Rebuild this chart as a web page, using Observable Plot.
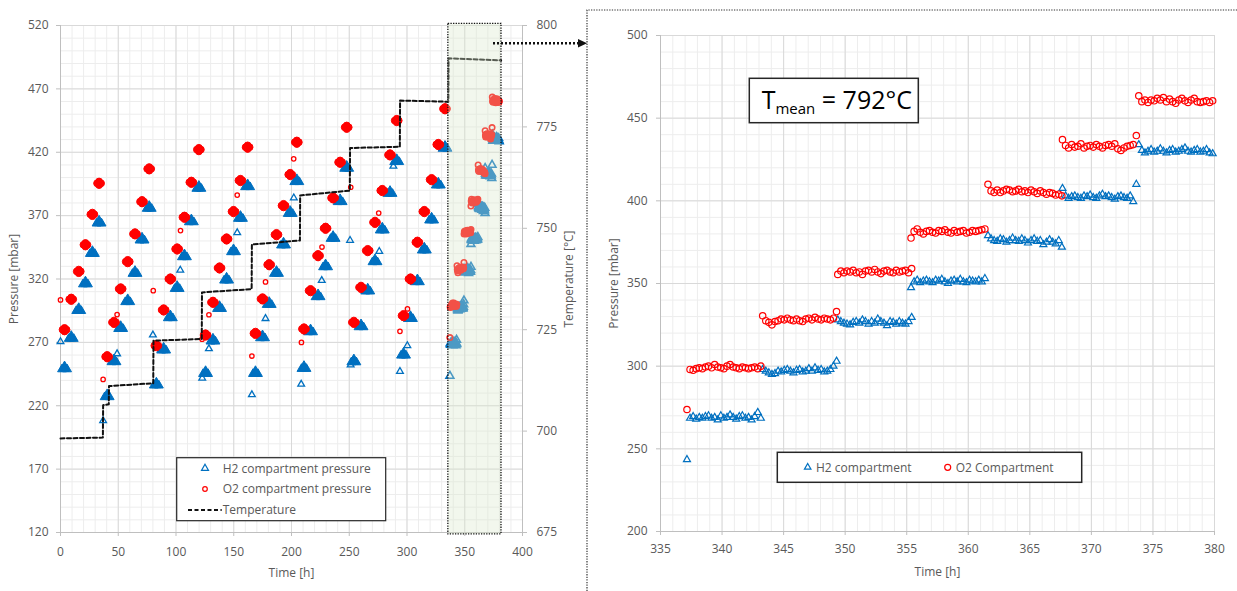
<!DOCTYPE html>
<html><head><meta charset="utf-8">
<script src="https://cdn.jsdelivr.net/npm/d3@7"></script>
<script src="https://cdn.jsdelivr.net/npm/@observablehq/plot@0.6"></script>
<style>
body{margin:0;background:#fff;width:1237px;height:591px;overflow:hidden;position:relative;font-family:"Open Sans",sans-serif;}
#left{position:absolute;left:0;top:0;}
#right{position:absolute;left:590px;top:0;}
#overlay{position:absolute;left:0;top:0;}
</style></head><body>
<div id="left"></div><div id="right"></div>
<svg id="overlay" width="1237" height="591" xmlns="http://www.w3.org/2000/svg"></svg>
<script>
// ---------- Left panel: full test (0-400 h) ----------
const xTicksLeft = [0, 50, 100, 150, 200, 250, 300, 350, 400];
const yTicksLeft = [120, 170, 220, 270, 320, 370, 420, 470, 520];
const tempTicks = [675, 700, 725, 750, 775, 800];

// temperature step profile [h], [°C]
const tempTime = [0, 36.7, 36.9, 41.8, 42.0, 80.3, 80.5, 122.3, 122.5, 165.5, 165.7, 207.3, 207.5, 250.5, 250.7, 293.8, 294.0, 335.8, 336.0, 381.5];
const tempValue = [698.2, 698.4, 706.4, 706.6, 711.1, 711.8, 722.3, 722.7, 734.2, 735.0, 746.0, 747.0, 758.1, 759.3, 769.8, 770.1, 781.5, 781.2, 791.9, 791.4];

// pressure-step clusters (centre time of each ~6 h hold) for temperature steps 1-8
const cycleTime = [
  3.5, 9.3, 15.8, 21.6, 27.6, 33.4,
  40.4, 46.3, 52.1, 58.2, 64.5, 70.6, 76.8,
  83, 89.3, 95.1, 101, 107.3, 113.3, 119.8,
  125.6, 132, 137.7, 143.8, 149.8, 155.8, 162,
  168.8, 174.9, 180.7, 187, 193.1, 198.9, 204.6,
  210.8, 216.5, 223, 229.5, 236, 242.1, 247.8,
  254, 260.2, 266, 272.3, 278.6, 285.3, 291.1,
  297, 303, 309, 315, 321.3, 327.1, 332.9];
const h2Cluster = [
  250, 274, 296, 317, 341, 365,
  228, 255.6, 281.8, 303, 325.3, 351.6, 376.6,
  237.2, 264.8, 290.3, 313.4, 338.4, 366, 392.4,
  246.3, 271.9, 297.6, 320, 342.4, 368.7, 393.7,
  246.3, 274.5, 300.8, 325.3, 347.7, 372.6, 397.7,
  250.3, 279.2, 306.9, 330.5, 352.9, 381.9, 408.2,
  255.5, 283.2, 311.4, 334.5, 359.5, 388.4, 413.5,
  260.8, 289.7, 318.7, 343.7, 367.4, 395, 424];
const o2Cluster = [
  280, 304, 326, 347, 371, 395.5,
  258.7, 285.8, 312.2, 333.7, 355.6, 381, 406.9,
  267.4, 295.6, 320, 343.7, 368.7, 396.3, 422.1,
  275.8, 301.6, 328.7, 351.6, 373.2, 397.7, 424,
  277.1, 304.3, 331.3, 355, 377.9, 402.4, 427.9,
  280.6, 310.8, 338.4, 360, 384, 412.1, 439.7,
  285.8, 313.4, 342.4, 364.7, 389.8, 417.9, 445,
  291.1, 320, 349, 373.2, 398.4, 426.1, 454.3];

// transient single readings
const h2OutTime = [0, 36.9, 49, 80, 103.7, 122.7, 128.5, 153, 165.7, 177.5, 202, 208.4, 226.2, 250.7, 251.2, 276, 288.2, 293.9, 300.3];
const h2OutValue = [270.6, 208.2, 261, 275.8, 327, 241.8, 265, 356.5, 228.7, 288.8, 384, 237, 318.8, 350.5, 252.2, 341.8, 409, 247.1, 267.4];
const o2OutTime = [0, 36.9, 49, 80.3, 103.9, 122.6, 128.5, 153, 165.7, 177.5, 201.9, 208.6, 226.4, 251.3, 275.5, 293.9, 300.4];
const o2OutValue = [303.5, 240.8, 291.9, 310.8, 358.2, 272.5, 291.8, 386.2, 259.2, 317.7, 414.8, 270, 345.2, 392.4, 372, 278.7, 296.4];

// highlighted window [h]
const zoomWindow = [335.8, 381.8];

// ---------- Right panel: detail of last temperature step (Tmean 792 °C) ----------
const xTicksRight = [335, 340, 345, 350, 355, 360, 365, 370, 375, 380];
const yTicksRight = [200, 250, 300, 350, 400, 450, 500];
const windowStart = [337.15, 343.3, 349.4, 355.35, 361.6, 367.65, 373.85];
const sampleStep = 0.25; // h between readings
const h2Window = [
 [243.5, 268.5, 269.5, 268, 269, 268.5, 269.5, 270, 268.5, 269, 267.5, 270, 268.5, 269, 270.5, 269, 268, 269.5, 270, 268.5, 269, 267.5, 269.5, 272, 268.5],
 [298, 297, 296, 295, 295.5, 297, 296.5, 297.5, 298, 297, 296, 297.5, 298, 296.5, 297, 298.5, 297, 299, 297.5, 298, 296.5, 297, 298, 300, 303],
 [328, 327, 326, 325.5, 325, 326.5, 327, 326, 328, 327, 325.5, 327, 326, 328.5, 327, 326, 324.5, 327, 326.5, 325.5, 327, 326, 325.5, 327, 329.5],
 [347.5, 351, 352, 350.5, 351.5, 352, 351, 350.5, 352, 351.5, 352.5, 351, 350, 351.5, 352, 351, 352.5, 351, 350.5, 352, 351.5, 351, 352, 351, 353],
 [379, 377, 376, 375.5, 377, 376.5, 375, 376, 377.5, 376, 375.5, 377, 376, 374.5, 376, 377, 375.5, 376, 373.5, 375, 376.5, 375, 374, 376, 372],
 [407.5, 403, 401.5, 402.5, 403, 402, 401.5, 403, 402.5, 403.5, 402, 401.5, 403, 404, 402.5, 403, 402, 401, 402.5, 403, 402, 401.5, 403, 399.5, 410],
 [434, 430.5, 429, 430, 431, 429.5, 430, 431.5, 430, 429, 430.5, 431, 429.5, 430, 431, 432, 430, 429.5, 430.5, 431, 429.5, 430, 431, 429, 428.5]
];
const o2Window = [
 [273.8, 298, 297.5, 298.5, 299, 298.5, 299.5, 300, 299, 301, 299.5, 299, 298.5, 300, 301, 299.5, 299, 298.5, 299.5, 299, 298.5, 299, 299.5, 298.5, 300],
 [330.5, 327.5, 326.5, 325, 327, 327.5, 328.5, 328, 329, 328, 327.5, 328.5, 327.5, 327, 328.5, 329, 328, 329.5, 328.5, 328, 329, 328.5, 328, 329, 333],
 [355.5, 357.5, 356.5, 357.5, 357, 358, 356.5, 357, 355.5, 357.5, 358, 357, 358.5, 357, 356, 357.5, 358, 357, 356.5, 358, 357, 357.5, 358, 356.5, 359],
 [377.5, 381.5, 383, 381, 380, 381.5, 382, 381, 380.5, 382, 381.5, 382.5, 381, 380.5, 382, 381, 381.5, 382, 380.5, 381, 382, 381.5, 382, 382.5, 383],
 [410, 406, 405, 406.5, 405, 406, 407, 406.5, 405.5, 406, 407, 405.5, 406, 405, 406.5, 405.5, 404.5, 406, 405, 404, 405, 404.5, 403.5, 404, 403],
 [437, 433.5, 432, 434, 432.5, 433, 434.5, 432, 433, 433.5, 432.5, 434, 433, 432, 433.5, 434, 433, 434.5, 431.5, 430.5, 432, 433, 433.5, 434, 439.5],
 [463.5, 460, 461, 459.5, 461, 460.5, 462, 461, 462.5, 460, 461.5, 460, 459, 461, 462, 460.5, 459.5, 461, 462, 460, 459.5, 460, 460.5, 459.5, 460.5]
];

// ---------- derived tables ----------
const BLUE = "#0070C0", RED = "#FF0000", TXT = "#595959";
const tempScale = d3.scaleLinear().domain([675, 800]).range([120, 520]);
const temps = tempTime.map((t, i) => ({t, p: tempScale(tempValue[i])}));
const clusters = cycleTime.map((t, i) => ({t, h2: h2Cluster[i], o2: o2Cluster[i]}));
const h2Out = h2OutTime.map((t, i) => ({t, p: h2OutValue[i]}));
const o2Out = o2OutTime.map((t, i) => ({t, p: o2OutValue[i]}));
const h2Detail = [], o2Detail = [];
windowStart.forEach((s, w) => {
  h2Window[w].forEach((v, i) => h2Detail.push({t: s + i * sampleStep, p: v}));
  o2Window[w].forEach((v, i) => o2Detail.push({t: s + i * sampleStep, p: v}));
});
const range = (a, b, s) => d3.range(a, b + s / 2, s);

// each dense cluster of overlapping readings is drawn as a small blob of overlapping symbols
const blobH2 = [[-2.5, 1.5], [0, -1.5], [2.5, 1.5], [0, 1.2]].map(([dx, dy]) =>
  Plot.dot(clusters, {x: "t", y: "h2", dx, dy, symbol: "triangle", r: 3.3, fill: BLUE, stroke: BLUE, strokeWidth: 1}));
const blobO2 = [[-2, 0], [0, -1.8], [2, 0], [0, 1.8]].map(([dx, dy]) =>
  Plot.dot(clusters, {x: "t", y: "o2", dx, dy, r: 3.4, fill: RED, stroke: RED, strokeWidth: 1}));

const leftPlot = Plot.plot({
  width: 590, height: 591,
  marginLeft: 60, marginRight: 68, marginTop: 25, marginBottom: 59,
  x: {domain: [0, 400]},
  y: {domain: [120, 520]},
  style: {fontFamily: "'Open Sans', sans-serif", fontSize: "12px", color: TXT, background: "transparent", overflow: "visible"},
  marks: [
    Plot.gridX(range(0, 400, 10), {stroke: "#ededed", strokeOpacity: 1}),
    Plot.gridY(range(120, 520, 10), {stroke: "#ededed", strokeOpacity: 1}),
    Plot.gridX(xTicksLeft, {stroke: "#d9d9d9", strokeOpacity: 1}),
    Plot.gridY(yTicksLeft, {stroke: "#d9d9d9", strokeOpacity: 1}),
    Plot.ruleX([0, 400], {stroke: "#bfbfbf"}),
    Plot.ruleY([120], {stroke: "#bfbfbf"}),
    Plot.axisX(xTicksLeft, {tickSize: 4, tickPadding: 11, stroke: "#bfbfbf", fill: TXT, label: "Time [h]", labelAnchor: "center", labelArrow: "none", labelOffset: 44}),
    Plot.axisY(yTicksLeft, {anchor: "left", tickSize: 4, tickPadding: 8, stroke: "#bfbfbf", fill: TXT, label: "Pressure [mbar]", labelAnchor: "center", labelArrow: "none", labelOffset: 51}),
    Plot.axisY(tempTicks.map(tempScale), {anchor: "right", tickSize: 4, tickPadding: 10, stroke: "#bfbfbf", fill: TXT, tickFormat: d => Math.round(tempScale.invert(d)), label: "Temperature [°C]", labelAnchor: "center", labelArrow: "none", labelOffset: 50}),
    ...blobH2,
    Plot.dot(h2Out, {x: "t", y: "p", symbol: "triangle", r: 2.5, stroke: BLUE, strokeWidth: 1.3, fill: "none"}),
    Plot.dot(h2Detail, {x: "t", y: "p", symbol: "triangle", r: 2.9, stroke: BLUE, strokeWidth: 1.6, fill: "none"}),
    ...blobO2,
    Plot.dot(o2Out, {x: "t", y: "p", r: 2.2, stroke: RED, strokeWidth: 1.3, fill: "none"}),
    Plot.dot(o2Detail, {x: "t", y: "p", r: 2.7, stroke: RED, strokeWidth: 1.6, fill: "none"}),
    Plot.line(temps, {x: "t", y: "p", stroke: "#111", strokeWidth: 2, strokeDasharray: "4,2.5"}),
    Plot.rect([zoomWindow], {x1: d => d[0], x2: d => d[1], y1: 118.5, y2: 521.3, fill: "#D9E8CC", fillOpacity: 0.35, stroke: "#111", strokeWidth: 1.3, strokeDasharray: "1.3,1.3"})
  ]
});
document.getElementById("left").appendChild(leftPlot);

const rightPlot = Plot.plot({
  width: 647, height: 591,
  marginLeft: 70, marginRight: 23, marginTop: 35, marginBottom: 60,
  x: {domain: [335, 380]},
  y: {domain: [200, 500]},
  style: {fontFamily: "'Open Sans', sans-serif", fontSize: "12px", color: TXT, background: "transparent", overflow: "visible"},
  marks: [
    Plot.gridX(range(335, 380, 1), {stroke: "#ededed", strokeOpacity: 1}),
    Plot.gridY(range(200, 500, 10), {stroke: "#ededed", strokeOpacity: 1}),
    Plot.gridX(xTicksRight, {stroke: "#d9d9d9", strokeOpacity: 1}),
    Plot.gridY(yTicksRight, {stroke: "#d9d9d9", strokeOpacity: 1}),
    Plot.ruleX([335], {stroke: "#bfbfbf"}),
    Plot.ruleY([200], {stroke: "#bfbfbf"}),
    Plot.axisX(xTicksRight, {tickSize: 4, tickPadding: 9, stroke: "#bfbfbf", fill: TXT, label: "Time [h]", labelAnchor: "center", labelArrow: "none", labelOffset: 44}),
    Plot.axisY(yTicksRight, {anchor: "left", tickSize: 4, tickPadding: 9, stroke: "#bfbfbf", fill: TXT, label: "Pressure [mbar]", labelAnchor: "center", labelArrow: "none", labelOffset: 51}),
    Plot.dot(h2Detail, {x: "t", y: "p", symbol: "triangle", r: 2.6, stroke: BLUE, strokeWidth: 1.2, fill: "none"}),
    Plot.dot(o2Detail, {x: "t", y: "p", r: 3.2, stroke: RED, strokeWidth: 1.2, fill: "none"})
  ]
});
document.getElementById("right").appendChild(rightPlot);

// ---------- annotations: legends, zoom arrow, panel frame, Tmean box ----------
const ov = d3.select("#overlay");
const txt = (x, y, s, opts = {}) => ov.append("text").attr("x", x).attr("y", y).attr("font-family", "'Open Sans', sans-serif").attr("font-size", opts.size || 12).attr("fill", opts.fill || TXT).text(s);
const tri = (cx, cy, s) => ov.append("path").attr("d", `M${cx},${cy - s * 0.58}L${cx + s / 2},${cy + s * 0.29}L${cx - s / 2},${cy + s * 0.29}Z`).attr("fill", "none").attr("stroke", BLUE).attr("stroke-width", 1.2);
// panel frame
ov.append("path").attr("d", "M587,591V10H1237").attr("fill", "none").attr("stroke", "#333").attr("stroke-width", 1.2).attr("stroke-dasharray", "1.3,1.3");
// arrow
ov.append("line").attr("x1", 493).attr("y1", 43.3).attr("x2", 579).attr("y2", 43.3).attr("stroke", "#111").attr("stroke-width", 2.5).attr("stroke-dasharray", "2,2");
ov.append("path").attr("d", "M587,43.3L578,39L578,47.6Z").attr("fill", "#111");
// left legend
ov.append("rect").attr("x", 176.7).attr("y", 457.7).attr("width", 209).attr("height", 63).attr("fill", "#fff").attr("stroke", "#262626").attr("stroke-width", 1.2);
tri(205, 468.3, 7); txt(222.7, 472.5, "H2 compartment pressure");
ov.append("circle").attr("cx", 205).attr("cy", 489).attr("r", 2.3).attr("fill", "none").attr("stroke", RED).attr("stroke-width", 1.2);
txt(222.7, 493.3, "O2 compartment pressure");
ov.append("line").attr("x1", 188).attr("x2", 221.7).attr("y1", 510).attr("y2", 510).attr("stroke", "#111").attr("stroke-width", 2).attr("stroke-dasharray", "4,2.5");
txt(222.7, 514.3, "Temperature");
// right legend
ov.append("rect").attr("x", 777.3).attr("y", 452.3).attr("width", 304.4).attr("height", 30).attr("fill", "#fff").attr("stroke", "#262626").attr("stroke-width", 1.5);
tri(807.7, 467.3, 6.5); txt(816, 471.6, "H2 compartment");
ov.append("circle").attr("cx", 947.7).attr("cy", 467.3).attr("r", 3).attr("fill", "none").attr("stroke", RED).attr("stroke-width", 1.2);
txt(955.7, 471.6, "O2 Compartment");
// Tmean box
ov.append("rect").attr("x", 749.3).attr("y", 78.3).attr("width", 169).attr("height", 44.4).attr("fill", "#fff").attr("stroke", "#262626").attr("stroke-width", 1.5);
const tm = ov.append("text").attr("x", 761.7).attr("y", 109).attr("font-family", "'Open Sans', sans-serif").attr("fill", "#000").attr("font-size", 25);
tm.append("tspan").text("T");
tm.append("tspan").attr("font-size", 15).attr("dy", 5).text("mean");
tm.append("tspan").attr("dy", -5).text(" = 792°C");
</script></body></html>
